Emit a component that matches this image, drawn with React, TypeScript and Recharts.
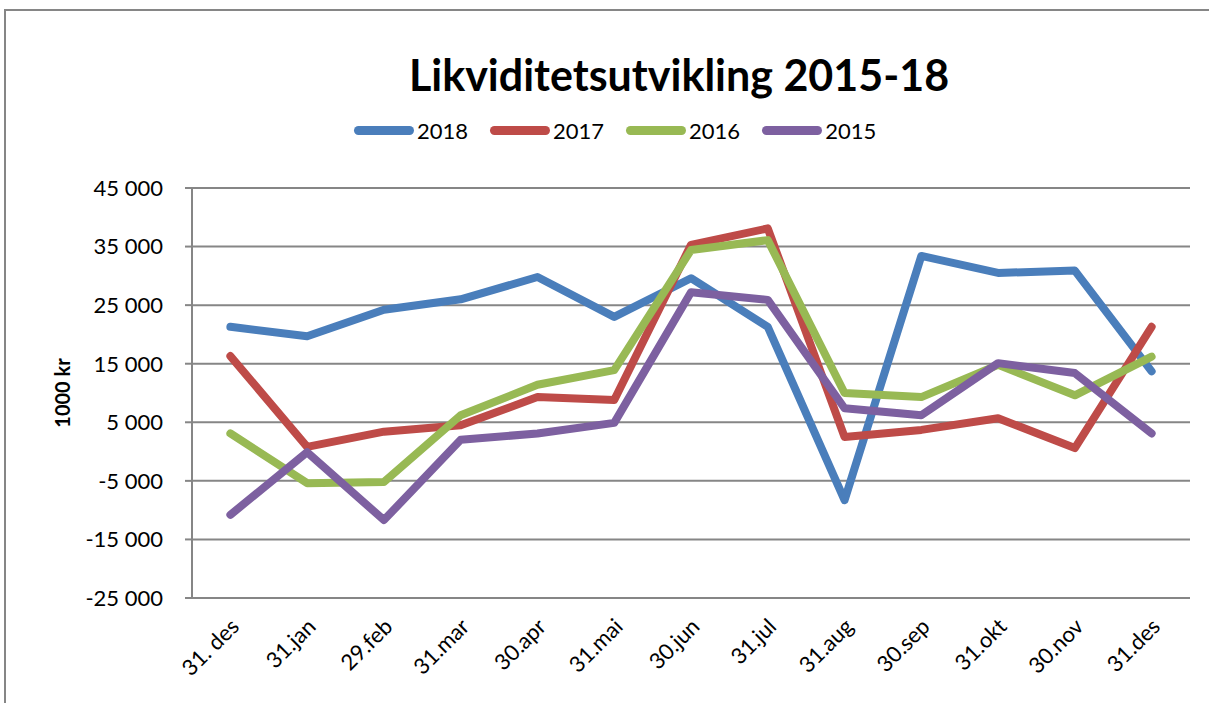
import { LineChart, Line, XAxis, YAxis, CartesianGrid } from 'recharts'

const categories = ['31. des', '31.jan', '29.feb', '31.mar', '30.apr', '31.mai', '30.jun', '31.jul', '31.aug', '30.sep', '31.okt', '30.nov', '31.des']

const y2018 = [21300, 19700, 24200, 26000, 29800, 23000, 29600, 21300, -8300, 33400, 30500, 30900, 13700]
const y2017 = [16300, 800, 3400, 4500, 9300, 8800, 35300, 38100, 2500, 3700, 5700, 600, 21300]
const y2016 = [3100, -5400, -5200, 6200, 11400, 13900, 34400, 36100, 10000, 9300, 14800, 9600, 16200]
const y2015 = [-10800, -100, -11700, 2000, 3100, 4900, 27200, 25900, 7400, 6200, 15100, 13400, 3100]

const yTicks = [45000, 35000, 25000, 15000, 5000, -5000, -15000, -25000]

const series = [
  { key: 'y2018', name: '2018', color: '#4a7ebb' },
  { key: 'y2017', name: '2017', color: '#be4b48' },
  { key: 'y2016', name: '2016', color: '#98b954' },
  { key: 'y2015', name: '2015', color: '#7d60a0' },
]

const data = categories.map((c, i) => ({
  name: c,
  y2018: y2018[i],
  y2017: y2017[i],
  y2016: y2016[i],
  y2015: y2015[i],
}))

const font = 'Lato, "Open Sans", sans-serif'

const fmt = (v: number) => {
  const s = Math.abs(v).toString().replace(/\B(?=(\d{3})+(?!\d))/g, ' ')
  return v < 0 ? '-' + s : s
}

const XTick = (props: any) => {
  const { x, y, payload } = props
  const ax = x + 10
  const ay = y + 22
  return (
    <text
      x={ax}
      y={ay}
      textAnchor="end"
      transform={`rotate(-45, ${ax}, ${ay})`}
      fontSize={22}
      fontFamily={font}
      fill="#000"
    >
      {payload.value}
    </text>
  )
}

export default function App() {
  return (
    <div style={{ position: 'fixed', left: 0, top: 0, width: 1209, height: 703, background: '#fff', overflow: 'hidden', fontFamily: font }}>
      {/* chart frame */}
      <div style={{ position: 'absolute', left: 4, top: 9, width: 1220, height: 720, border: '2px solid #868686', boxSizing: 'border-box' }} />
      <div style={{ position: 'absolute', left: 0, top: 49, width: 1358, textAlign: 'center', fontSize: 43, fontWeight: 700, color: '#000' }}>
        Likviditetsutvikling 2015-18
      </div>
      <div style={{ position: 'absolute', left: 354, top: 117, display: 'flex', alignItems: 'center', fontSize: 22, color: '#000' }}>
        {series.map((s) => (
          <div key={s.key} style={{ display: 'flex', alignItems: 'center', marginRight: 22 }}>
            <div style={{ width: 60, height: 9, borderRadius: 5, background: s.color, marginRight: 3 }} />
            <span>{s.name}</span>
          </div>
        ))}
      </div>
      <div
        style={{
          position: 'absolute',
          left: 62,
          top: 393,
          transform: 'translate(-50%, -50%) rotate(-90deg)',
          fontSize: 20,
          fontWeight: 700,
          whiteSpace: 'nowrap',
        }}
      >
        1000 kr
      </div>
      <div style={{ position: 'absolute', left: 0, top: 0 }}>
        <LineChart width={1209} height={703} data={data} margin={{ top: 188, right: 19, bottom: 5, left: 92 }}>
          <CartesianGrid horizontal vertical={false} stroke="#868686" strokeWidth={2} />
          <XAxis
            dataKey="name"
            scale="band"
            axisLine={false}
            tickLine={false}
            interval={0}
            height={100}
            tick={<XTick />}
          />
          <YAxis
            domain={[-25000, 45000]}
            ticks={yTicks}
            interval={0}
            width={100}
            tickFormatter={fmt}
            axisLine={{ stroke: '#868686', strokeWidth: 2 }}
            tickLine={{ stroke: '#868686', strokeWidth: 2 }}
            tickSize={7}
            tickMargin={22}
            tick={{ fontSize: 22, fontFamily: font, fill: '#000' }}
          />
          {series.map((s) => (
            <Line
              key={s.key}
              dataKey={s.key}
              name={s.name}
              type="linear"
              stroke={s.color}
              strokeWidth={8}
              strokeLinecap="round"
              strokeLinejoin="round"
              dot={false}
              activeDot={false}
              isAnimationActive={false}
            />
          ))}
        </LineChart>
      </div>
    </div>
  )
}
